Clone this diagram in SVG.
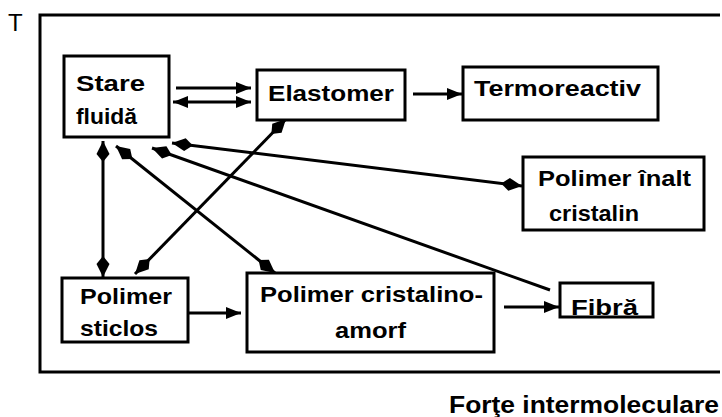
<svg xmlns="http://www.w3.org/2000/svg" width="722" height="417" viewBox="0 0 722 417">
  <defs>
    <style>
      .box { fill: #fff; stroke: #000; stroke-width: 3; }
      .lbl { font-family: "Liberation Sans", Arial, sans-serif; font-weight: bold; font-size: 22px; fill: #000; }
      .axis { font-family: "Liberation Sans", Arial, sans-serif; font-weight: bold; font-size: 24px; fill: #000; }
      .edge { fill: none; stroke: #000; stroke-width: 3; }
      .frame { fill: none; stroke: #000; stroke-width: 3; }
    </style>
    <!-- triangular head for short horizontal arrows -->
    <marker id="tri" markerUnits="userSpaceOnUse" markerWidth="16" markerHeight="14" viewBox="0 -7 16 14" refX="15" refY="0" orient="auto-start-reverse">
      <path d="M0,-6 L15,0 L0,6 z" fill="#000"/>
    </marker>
    <!-- slender leaf-shaped head for the long diagonal links -->
    <marker id="leaf" markerUnits="userSpaceOnUse" markerWidth="22" markerHeight="14" viewBox="0 -7 22 14" refX="21" refY="0" orient="auto-start-reverse">
      <path d="M0,0 L8,-6.5 L21,0 L8,6.5 z" fill="#000"/>
    </marker>
  </defs>

  <rect width="722" height="417" fill="#fff"/>

  <!-- axes frame -->
  <path class="frame" d="M720,15 H40 V372 H720"/>
  <text class="axis" x="8" y="31" style="font-weight:normal">T</text>
  <text class="axis" x="449" y="413" textLength="270" lengthAdjust="spacingAndGlyphs">Forţe intermoleculare</text>

  <g id="connectors">
    <path class="edge" d="M176,88 L251,88" marker-end="url(#tri)"/>
    <path class="edge" d="M173,102 L251,102" marker-start="url(#tri)" marker-end="url(#tri)"/>
    <path class="edge" d="M413,94 L462,94" marker-end="url(#tri)"/>
    <path class="edge" d="M103,141 L103,277" marker-start="url(#leaf)" marker-end="url(#leaf)"/>
    <path class="edge" d="M116,146 L275,273" marker-start="url(#leaf)" marker-end="url(#leaf)"/>
    <path class="edge" d="M286,119 L135,274" marker-start="url(#leaf)" marker-end="url(#leaf)"/>
    <path class="edge" d="M172,143 L522,186" marker-start="url(#leaf)" marker-end="url(#leaf)"/>
    <path class="edge" d="M152,148 L550,290" marker-start="url(#leaf)"/>
    <path class="edge" d="M188,313 L241,313" marker-end="url(#tri)"/>
    <path class="edge" d="M504,307 L559,307" marker-end="url(#tri)"/>
  </g>

  <g id="stare-fluida">
    <rect class="box" x="64" y="56" width="105" height="81"/>
    <text class="lbl" x="76" y="91" textLength="69" lengthAdjust="spacingAndGlyphs">Stare</text>
    <text class="lbl" x="76" y="124" textLength="61" lengthAdjust="spacingAndGlyphs">fluidă</text>
  </g>
  <g id="elastomer">
    <rect class="box" x="257" y="70" width="148" height="50"/>
    <text class="lbl" x="268" y="101" textLength="126" lengthAdjust="spacingAndGlyphs">Elastomer</text>
  </g>
  <g id="termoreactiv">
    <rect class="box" x="463" y="67" width="195" height="53"/>
    <text class="lbl" x="474" y="96" textLength="167" lengthAdjust="spacingAndGlyphs">Termoreactiv</text>
  </g>
  <g id="polimer-inalt-cristalin">
    <rect class="box" x="523" y="157" width="181" height="73"/>
    <text class="lbl" x="538" y="186" textLength="153" lengthAdjust="spacingAndGlyphs">Polimer înalt</text>
    <text class="lbl" x="549" y="221" textLength="90" lengthAdjust="spacingAndGlyphs">cristalin</text>
  </g>
  <g id="polimer-sticlos">
    <rect class="box" x="62" y="278" width="126" height="64"/>
    <text class="lbl" x="80" y="304" textLength="92" lengthAdjust="spacingAndGlyphs">Polimer</text>
    <text class="lbl" x="80" y="336" textLength="78" lengthAdjust="spacingAndGlyphs">sticlos</text>
  </g>
  <g id="polimer-cristalino-amorf">
    <rect class="box" x="247" y="273" width="247" height="79"/>
    <text class="lbl" x="260" y="302" textLength="223" lengthAdjust="spacingAndGlyphs">Polimer cristalino-</text>
    <text class="lbl" x="335" y="338" textLength="71" lengthAdjust="spacingAndGlyphs">amorf</text>
  </g>
  <g id="fibra">
    <rect class="box" x="560" y="283" width="93" height="34"/>
    <text class="lbl" x="571" y="315" textLength="67" lengthAdjust="spacingAndGlyphs">Fibră</text>
  </g>
</svg>
